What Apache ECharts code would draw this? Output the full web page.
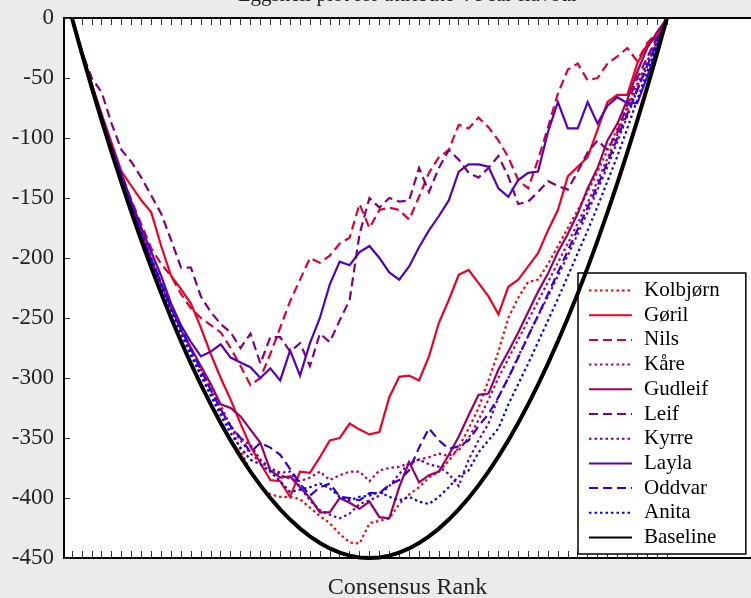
<!DOCTYPE html>
<html>
<head>
<meta charset="utf-8">
<script src="https://cdn.jsdelivr.net/npm/echarts@6/dist/echarts.min.js"></script>
<style>
html,body{margin:0;padding:0;background:#ebebeb;}
#chart{width:751px;height:598px;}
</style>
</head>
<body>
<div id="chart"></div>
<script>
// ---- data ----
var titleText = 'Eggshell plot for attribute 4 Pear flavour';
var xAxisName = 'Consensus Rank';
var ranks = [0,1,2,3,4,5,6,7,8,9,10,11,12,13,14,15,16,17,18,19,20,21,22,23,24,25,26,27,28,29,30,31,32,33,34,35,36,37,38,39,40,41,42,43,44,45,46,47,48,49,50,51,52,53,54,55,56,57,58,59,60];
var yTicks = [0,-50,-100,-150,-200,-250,-300,-350,-400,-450];

var kolbjorn = [0,-28,-56,-82,-108,-132,-156,-178,-200,-220,-240,-258,-275,-292,-308,-323,-340,-360,-378,-390,-397,-399,-399,-401,-408,-415,-421,-430,-437,-438,-421,-419,-417,-405,-397,-391,-383,-378,-369,-358,-342,-325,-302,-278,-250,-233,-220,-218,-205,-190,-175,-160,-145,-128,-110,-92,-74,-55,-36,-18,0];
var goril = [0,-28,-55,-80,-104,-128,-140,-152,-162,-190,-215,-226,-238,-258,-280,-300,-318,-338,-357,-371,-385,-386,-399,-378,-379,-366,-352,-350,-338,-343,-347,-345,-316,-299,-298,-302,-282,-254,-235,-214,-210,-221,-232,-247,-224,-218,-207,-196,-177,-160,-132,-124,-116,-93,-70,-64,-64,-38,-22,-16,0];
var nils = [0,-28,-55,-82,-107,-130,-152,-172,-192,-205,-215,-230,-242,-250,-256,-262,-275,-290,-306,-300,-280,-258,-236,-218,-200,-204,-198,-188,-183,-155,-175,-160,-158,-160,-168,-149,-129,-116,-110,-89,-92,-83,-91,-102,-116,-135,-142,-118,-91,-63,-43,-38,-52,-50,-38,-32,-25,-36,-21,-12,0];
var kare = [0,-28,-56,-83,-109,-133,-157,-180,-201,-221,-241,-259,-277,-294,-310,-326,-340,-352,-363,-370,-376,-381,-384,-386,-383,-378,-385,-381,-378,-378,-386,-377,-375,-374,-371,-368,-366,-363,-365,-360,-350,-335,-318,-300,-284,-268,-252,-236,-220,-204,-188,-171,-154,-136,-117,-97,-77,-57,-37,-18,0];
var gudleif = [0,-28,-56,-83,-109,-133,-157,-180,-201,-222,-242,-260,-275,-290,-305,-322,-325,-332,-343,-354,-377,-383,-382,-391,-400,-412,-412,-400,-404,-409,-403,-416,-417,-391,-370,-387,-381,-378,-364,-349,-331,-314,-313,-293,-278,-262,-245,-228,-213,-195,-180,-163,-142,-125,-102,-88,-68,-45,-25,-12,0];
var leif = [0,-28,-50,-62,-88,-110,-120,-133,-148,-163,-185,-208,-208,-232,-245,-255,-262,-275,-263,-288,-266,-266,-278,-271,-290,-263,-270,-252,-235,-180,-150,-158,-150,-153,-152,-125,-145,-125,-110,-118,-129,-133,-125,-115,-132,-155,-153,-145,-136,-140,-143,-128,-112,-102,-110,-95,-72,-50,-33,-16,0];
var kyrre = [0,-29,-57,-84,-110,-135,-159,-182,-203,-223,-243,-262,-280,-297,-313,-328,-342,-350,-356,-368,-375,-379,-378,-391,-402,-410,-414,-417,-413,-405,-402,-398,-390,-380,-371,-368,-372,-374,-380,-390,-368,-352,-338,-316,-300,-282,-265,-248,-232,-215,-198,-180,-162,-143,-124,-103,-82,-60,-40,-20,0];
var layla = [0,-28,-56,-82,-107,-130,-153,-175,-195,-215,-238,-256,-270,-282,-278,-272,-283,-287,-291,-300,-292,-302,-277,-298,-271,-250,-222,-203,-206,-195,-190,-200,-212,-218,-207,-191,-177,-165,-152,-128,-122,-122,-124,-142,-149,-135,-129,-128,-95,-70,-92,-92,-70,-88,-73,-66,-71,-71,-49,-25,0];
var oddvar = [0,-29,-57,-84,-110,-134,-158,-180,-201,-221,-240,-258,-276,-293,-310,-326,-340,-350,-362,-354,-358,-364,-376,-388,-398,-391,-388,-399,-400,-402,-396,-396,-389,-385,-377,-358,-342,-352,-359,-357,-352,-340,-330,-316,-300,-283,-265,-248,-230,-212,-194,-176,-158,-140,-120,-100,-80,-60,-40,-20,0];
var anita = [0,-29,-57,-84,-110,-135,-159,-182,-203,-224,-244,-263,-281,-298,-315,-331,-346,-358,-368,-372,-378,-386,-395,-393,-391,-388,-392,-399,-402,-399,-398,-395,-399,-402,-399,-403,-405,-399,-391,-382,-377,-362,-352,-342,-322,-305,-288,-270,-252,-234,-215,-196,-177,-157,-136,-115,-92,-68,-45,-22,0];
var baseline = [0,-29.5,-58,-85.5,-112,-137.5,-162,-185.5,-208,-229.5,-250,-269.5,-288,-305.5,-322,-337.5,-352,-365.5,-378,-389.5,-400,-409.5,-418,-425.5,-432,-437.5,-442,-445.5,-448,-449.5,-450,-449.5,-448,-445.5,-442,-437.5,-432,-425.5,-418,-409.5,-400,-389.5,-378,-365.5,-352,-337.5,-322,-305.5,-288,-269.5,-250,-229.5,-208,-185.5,-162,-137.5,-112,-85.5,-58,-29.5,0];

var seriesNames = ['Kolbjørn','Gøril','Nils','Kåre','Gudleif','Leif','Kyrre','Layla','Oddvar','Anita','Baseline'];
var seriesValues = [kolbjorn, goril, nils, kare, gudleif, leif, kyrre, layla, oddvar, anita, baseline];
var seriesColors = ['#ff0000','#ee0022','#dd0033','#bb0055','#990066','#800080','#6a00aa','#5500bb','#3300dd','#0000ff','#000000'];
var dashDotted = [2.5,3];
var dashDashed = [9,5];
var seriesLineTypes = [dashDotted,'solid',dashDashed,dashDotted,'solid',dashDashed,dashDotted,'solid',dashDashed,dashDotted,'solid'];
var seriesWidths = [2.2,2.2,2.2,2.2,2.2,2.2,2.2,2.2,2.2,2.2,4];

var serif = '"Liberation Serif", "DejaVu Serif", serif';

var series = seriesNames.map(function (name, k) {
  return {
    name: name,
    type: 'line',
    symbol: 'none',
    showSymbol: false,
    animation: false,
    z: k === seriesNames.length - 1 ? 5 : 2,
    data: ranks.map(function (r, i) { return [r, seriesValues[k][i]]; }),
    lineStyle: { color: seriesColors[k], width: seriesWidths[k], type: seriesLineTypes[k], cap: 'butt', join: 'miter' },
    itemStyle: { color: seriesColors[k] }
  };
});

var axisLineStyle = { show: true, onZero: false, lineStyle: { color: '#000', width: 2 } };
var tickStyle = { color: '#333', width: 1 };

var chart = echarts.init(document.getElementById('chart'), null, { renderer: 'canvas' });
chart.setOption({
  animation: false,
  backgroundColor: '#ebebeb',
  title: {
    text: titleText,
    left: 408,
    textAlign: 'center',
    top: -15,
    padding: 0,
    textStyle: { fontFamily: serif, fontSize: 21, fontWeight: 'normal', color: '#222' }
  },
  grid: {
    left: 64, top: 18, right: 0, height: 540,
    outerBoundsMode: 'none',
    containLabel: false,
    show: true, backgroundColor: '#ffffff', borderWidth: 0
  },
  legend: {
    orient: 'vertical',
    left: 578,
    top: 273,
    data: seriesNames,
    backgroundColor: '#ffffff',
    borderColor: '#000',
    borderWidth: 1.5,
    borderRadius: 0,
    padding: [7, 26, 6, 10],
    itemWidth: 43,
    itemHeight: 14,
    itemGap: 3.7,
    selectedMode: false,
    itemStyle: { opacity: 0 },
    textStyle: { fontFamily: serif, fontSize: 21, color: '#000', lineHeight: 20, padding: [0, 0, 0, 7] }
  },
  xAxis: [{
    type: 'value',
    min: -0.8,
    max: 68.47,
    position: 'bottom',
    name: xAxisName,
    nameLocation: 'middle',
    nameGap: 18,
    nameTextStyle: { fontFamily: serif, fontSize: 24, color: '#222' },
    axisLine: axisLineStyle,
    axisTick: { show: true, inside: true, length: 7, customValues: ranks, lineStyle: tickStyle },
    axisLabel: { show: false },
    splitLine: { show: false }
  }, {
    type: 'value',
    min: -0.8,
    max: 68.47,
    position: 'top',
    axisLine: axisLineStyle,
    axisTick: { show: true, inside: true, length: 7, customValues: ranks, lineStyle: tickStyle },
    axisLabel: { show: false },
    splitLine: { show: false }
  }],
  yAxis: {
    type: 'value',
    min: -450,
    max: 0,
    interval: 50,
    position: 'left',
    axisLine: axisLineStyle,
    axisTick: { show: true, inside: true, length: 6, lineStyle: tickStyle },
    axisLabel: { fontFamily: serif, fontSize: 23, color: '#222', margin: 10,
      customValues: yTicks },
    splitLine: { show: false }
  },
  series: series
});
</script>
</body>
</html>
